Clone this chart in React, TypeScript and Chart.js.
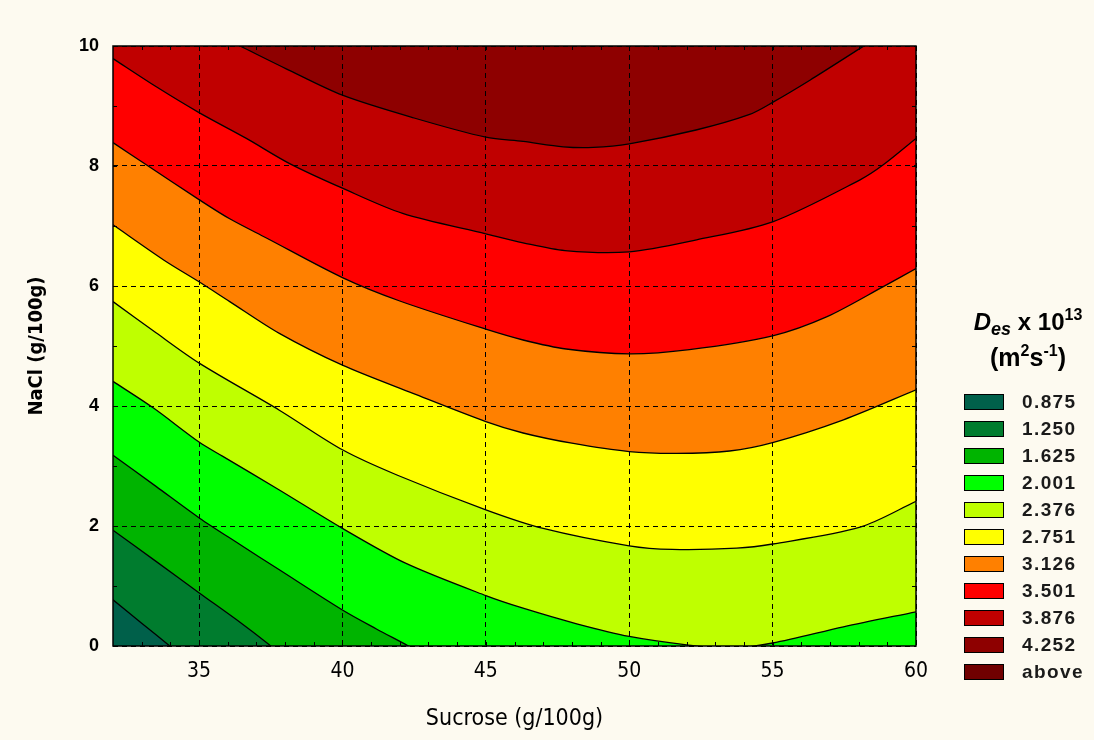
import React, { useEffect, useRef } from 'react';
import { Chart, registerables } from 'chart.js';
Chart.register(...registerables);

// Axis ticks
const X_TICKS = [35, 40, 45, 50, 55, 60];
const Y_TICKS = [0, 2, 4, 6, 8, 10];
const X_MINOR = [33, 34, 35, 36, 37, 38, 39, 40, 41, 42, 43, 44, 45, 46, 47, 48, 49, 50, 51, 52, 53, 54, 55, 56, 57, 58, 59];
const Y_MINOR = [1, 2, 3, 4, 5, 6, 7, 8, 9];

// Legend levels & colours
const LEVELS = ['0.875', '1.250', '1.625', '2.001', '2.376', '2.751', '3.126', '3.501', '3.876', '4.252', 'above'];
const COLORS = ['#00604a', '#007c2e', '#00b400', '#00ff00', '#bfff00', '#ffff00', '#ff8000', '#ff0000', '#c00000', '#8e0000', '#700000'];

// Contour lines (Sucrose, NaCl), from lowest level to highest
const CONTOUR_1 = [[32, 0.77], [33, 0.38], [33.98, 0], [34.2, -0.08]];
const CONTOUR_2 = [[32, 1.93], [33.5, 1.41], [35.02, 0.88], [36.3, 0.44], [37.45, 0.02], [37.6, -0.05]];
const CONTOUR_3 = [[32, 3.18], [33.5, 2.66], [35.02, 2.13], [36.4, 1.7], [37.8, 1.27], [40, 0.6], [41.2, 0.28], [42.3, 0.0], [42.5, -0.06]];
const CONTOUR_4 = [[32, 4.41], [33.4, 3.97], [35, 3.4], [35.83, 3.16], [37.8, 2.6], [40, 1.96], [42.2, 1.38], [45, 0.84], [46.3, 0.63], [48.17, 0.37], [50, 0.16], [52, 0.02], [53.5, -0.04], [55, 0.05], [57.47, 0.32], [60, 0.57]];
const CONTOUR_5 = [[32, 5.74], [33.5, 5.22], [35.02, 4.71], [37.8, 3.93], [40, 3.27], [41.9, 2.85], [45, 2.27], [47, 1.96], [50, 1.67], [51.5, 1.61], [53.75, 1.63], [55, 1.7], [58.05, 1.98], [60, 2.41]];
const CONTOUR_6 = [[32, 7.02], [33.78, 6.43], [35, 6.07], [36.07, 5.74], [37.8, 5.21], [40, 4.68], [42.46, 4.21], [45, 3.74], [46.3, 3.55], [48, 3.38], [50, 3.24], [51.65, 3.21], [53.5, 3.25], [55, 3.39], [57.47, 3.77], [60, 4.27]];
const CONTOUR_7 = [[32, 8.39], [33.16, 8.02], [35, 7.44], [36.07, 7.12], [37.35, 6.8], [40, 6.14], [42, 5.75], [45, 5.28], [46.3, 5.1], [47.8, 4.95], [50, 4.87], [52.1, 4.94], [55, 5.17], [56.9, 5.49], [58.86, 5.99], [60, 6.29]];
const CONTOUR_8 = [[32, 9.79], [33.51, 9.32], [35, 8.89], [36.65, 8.46], [38.16, 8.04], [40, 7.63], [42.1, 7.21], [45, 6.87], [46.3, 6.72], [47.76, 6.59], [50, 6.57], [52.35, 6.77], [55, 7.07], [58.05, 7.77], [58.86, 8.02], [60, 8.46]];
const CONTOUR_9 = [[32, 11.2], [34, 10.57], [36.43, 10], [38.04, 9.62], [40, 9.18], [42.5, 8.8], [45, 8.48], [46.3, 8.41], [47.7, 8.32], [48.75, 8.31], [50, 8.37], [52.33, 8.6], [54.2, 8.86], [55, 9.06], [56.3, 9.43], [58.05, 9.96], [60, 10.55]];

const CONTOURS = [CONTOUR_1, CONTOUR_2, CONTOUR_3, CONTOUR_4, CONTOUR_5, CONTOUR_6, CONTOUR_7, CONTOUR_8, CONTOUR_9];

const NARROW = "'Liberation Sans Narrow', 'DejaVu Sans Condensed', sans-serif";
const SANS = "'Liberation Sans', Arial, 'DejaVu Sans', sans-serif";

const framePlugin = {
  id: 'frame',
  beforeDatasetsDraw(chart: any) {
    const { ctx, chartArea: a } = chart;
    ctx.save();
    ctx.fillStyle = COLORS[9];
    ctx.fillRect(a.left, a.top, a.right - a.left, a.bottom - a.top);
    ctx.restore();
  },
  afterDraw(chart: any) {
    const { ctx, chartArea: a, scales } = chart;
    ctx.save();
    ctx.strokeStyle = '#000';
    ctx.lineWidth = 1;
    ctx.beginPath();
    const len = 4;
    X_MINOR.forEach((v) => {
      const px = Math.round(scales.x.getPixelForValue(v)) + 0.5;
      ctx.moveTo(px, a.bottom);
      ctx.lineTo(px, a.bottom - len);
      ctx.moveTo(px, a.top);
      ctx.lineTo(px, a.top + len);
    });
    Y_MINOR.forEach((v) => {
      const py = Math.round(scales.y.getPixelForValue(v)) + 0.5;
      ctx.moveTo(a.left, py);
      ctx.lineTo(a.left + len, py);
      ctx.moveTo(a.right, py);
      ctx.lineTo(a.right - len, py);
    });
    ctx.stroke();
    ctx.lineWidth = 1.5;
    ctx.strokeRect(a.left, a.top, a.right - a.left, a.bottom - a.top);
    ctx.restore();
  },
};

export default function App() {
  const ref = useRef<HTMLCanvasElement | null>(null);
  useEffect(() => {
    if (!ref.current) return;
    const datasets = CONTOURS.map((c, i) => ({
      label: LEVELS[i],
      data: c.map(([x, y]) => ({ x, y })),
      borderColor: '#000',
      borderWidth: 1.3,
      backgroundColor: COLORS[i],
      fill: 'start',
      pointRadius: 0,
      tension: 0.3,
      clip: 0,
    }));
    const chart = new Chart(ref.current, {
      type: 'line',
      data: { datasets },
      options: {
        responsive: false,
        animation: false,
        layout: { padding: { left: 0, right: 178, top: 46, bottom: 0 } },
        plugins: { legend: { display: false }, tooltip: { enabled: false } },
        scales: {
          x: {
            type: 'linear',
            min: 32,
            max: 60,
            afterBuildTicks: (s: any) => { s.ticks = X_TICKS.map((v) => ({ value: v })); },
            afterFit: (s: any) => { s.height = 94; },
            grid: { color: '#000', lineWidth: 1, drawTicks: false, z: 1 },
            border: { display: false, dash: [5, 4] },
            ticks: { padding: 13, color: '#000', font: { family: NARROW, size: 21 } },
            title: { display: true, text: 'Sucrose (g/100g)', color: '#000', font: { family: NARROW, size: 23 }, padding: { top: 0, bottom: 7 } },
          },
          y: {
            type: 'linear',
            min: 0,
            max: 10,
            afterBuildTicks: (s: any) => { s.ticks = Y_TICKS.map((v) => ({ value: v })); },
            afterFit: (s: any) => { s.width = 113; },
            grid: { color: '#000', lineWidth: 1, drawTicks: false, z: 1 },
            border: { display: false, dash: [5, 4] },
            ticks: { padding: 14, color: '#000', font: { family: SANS, size: 18, weight: 'bold' } },
            title: { display: true, text: 'NaCl (g/100g)', color: '#000', font: { family: NARROW, size: 20, weight: 'bold' }, padding: { top: 25, bottom: 0 } },
          },
        },
      },
      plugins: [framePlugin],
    } as any);
    return () => chart.destroy();
  }, []);

  const sub = { position: 'relative' as const, top: 5, fontSize: 18, fontStyle: 'italic' as const };
  const sup = { position: 'relative' as const, top: -10, fontSize: 16 };

  return (
    <div style={{ position: 'fixed', left: 0, top: 0, width: 1094, height: 740, background: '#fdfaf0', overflow: 'hidden' }}>
      <canvas ref={ref} width={1094} height={740} style={{ position: 'absolute', left: 0, top: 0, width: 1094, height: 740 }} />
      <div style={{ position: 'absolute', left: 955, top: 306, width: 146, textAlign: 'center', fontFamily: SANS, fontWeight: 'bold', color: '#000', lineHeight: '32px', whiteSpace: 'nowrap' }}>
        <div style={{ fontSize: 24 }}>
          <i>D</i><span style={sub}>es</span> x 10<span style={sup}>13</span>
        </div>
        <div style={{ fontSize: 25 }}>
          (m<span style={sup}>2</span>s<span style={sup}>-1</span>)
        </div>
      </div>
      {LEVELS.map((lv, i) => (
        <div key={lv} style={{ position: 'absolute', left: 964, top: 393 + i * 27, height: 17, display: 'flex', alignItems: 'center' }}>
          <div style={{ width: 38, height: 14, background: COLORS[i], border: '1.5px solid #000' }} />
          <div style={{ marginLeft: 18, fontFamily: SANS, fontWeight: 'bold', fontSize: 19, letterSpacing: '1.4px', color: '#1a1a1a', lineHeight: '17px' }}>{lv}</div>
        </div>
      ))}
    </div>
  );
}
